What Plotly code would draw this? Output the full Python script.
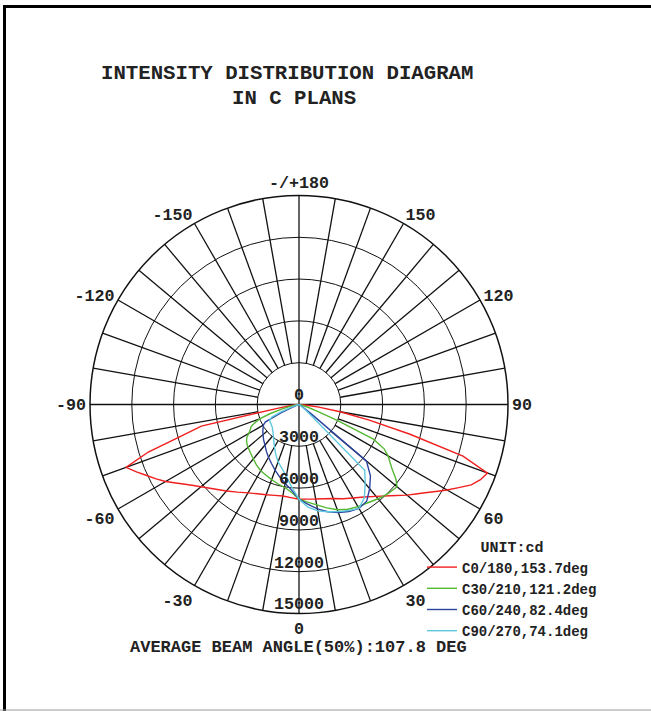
import plotly.graph_objects as go

# ---------------- data ----------------
gamma = [0, 5, 10, 15, 20, 25, 30, 35, 40, 45, 50, 52.5, 55, 57.5, 60, 62.5,
         65, 67.5, 70, 72.5, 75, 77.5, 80, 82.5, 85, 87.5, 90]

# intensity (cd) per half plane
c0 = [6800, 6820, 6890, 7000, 7180, 7460, 7750, 8110, 8610, 9260, 10120, 10550,
      11050, 11630, 12270, 12920, 13640, 14100, 14390, 12340, 8250, 5170, 2990,
      1440, 570, 140, 0]
c180 = [6800, 6710, 6670, 6750, 6890, 7070, 7320, 7680, 8110, 8580, 9190, 9550,
        9980, 10480, 11050, 11560, 12060, 12630, 13210, 11340, 8760, 7180, 1580,
        570, 220, 70, 0]
c30 = [6800, 7030, 7320, 7680, 8040, 8290, 8470, 8610, 8830, 9040, 9190, 8760,
       8180, 7750, 7390, 6890, 5890, 3010, 1290, 720, 360, 220, 140, 70, 0, 0, 0]
c210 = [6800, 6320, 6030, 5890, 5740, 5600, 5490, 5310, 5100, 4920, 4770, 4700,
        4590, 4450, 4160, 3950, 3800, 3440, 3010, 2150, 1290, 720, 360, 220, 140,
        70, 0]
c60 = [6800, 7180, 7610, 7970, 8250, 8470, 8610, 8470, 7890, 7250, 6320, 1080,
       430, 220, 140, 70, 0, 0, 0, 0, 0, 0, 0, 0, 0, 0, 0]
c240 = [6800, 6170, 5740, 5380, 5020, 4670, 4380, 4090, 3800, 3590, 3370, 3270,
        3160, 3050, 2940, 2730, 1440, 570, 220, 70, 0, 0, 0, 0, 0, 0, 0]
c90 = [6800, 7390, 7750, 7970, 8180, 8400, 8610, 8180, 7390, 6670, 720, 290,
       140, 70, 0, 0, 0, 0, 0, 0, 0, 0, 0, 0, 0, 0, 0]
c270 = [6800, 5960, 5240, 4740, 4380, 3950, 3520, 3160, 2870, 2660, 2510, 2480,
        2440, 2430, 2400, 2370, 2150, 1440, 570, 220, 70, 0, 0, 0, 0, 0, 0]

series_names = ["C0/180,153.7deg", "C30/210,121.2deg", "C60/240,82.4deg", "C90/270,74.1deg"]
series_right = [c0, c30, c60, c90]
series_left = [c180, c210, c240, c270]
series_colors = ["#f02020", "#55b833", "#2a43a0", "#60c8dd"]

ring_values = [0, 3000, 6000, 9000, 12000, 15000]
angle_tickvals = [0, 30, 60, 90, 120, 150, 180, 210, 240, 270, 300, 330]
angle_ticktext = ["0", "30", "60", "90", "120", "150", "-/+180", "-150", "-120", "-90", "-60", "-30"]
spoke_step = 10
r_max = 15000

FONT = "Liberation Mono"
W, H = 651, 711


def px(x):
    return x / W


def py(y):
    return 1 - y / H


fig = go.Figure()

# grid spokes (from first ring to outer ring) and the two diameters
sp_t, sp_r = [], []
for a in range(-170, 180, spoke_step):
    if a in (-90, 0, 90):
        continue
    sp_t += [a, a, None]
    sp_r += [ring_values[1], r_max, None]
sp_t += [0, 0, 180, None, 90, 90, 270]
sp_r += [r_max, 0, r_max, None, r_max, 0, r_max]
fig.add_trace(go.Scatterpolar(theta=sp_t, r=sp_r, mode="lines",
                              line=dict(color="#111111", width=1.3),
                              showlegend=False, hoverinfo="skip", connectgaps=False))

# curves
for name, right, left, col in zip(series_names, series_right, series_left, series_colors):
    th = [-g for g in reversed(gamma)] + gamma[1:]
    rr = list(reversed(left)) + right[1:]
    fig.add_trace(go.Scatterpolar(theta=th, r=rr, mode="lines", name=name,
                                  line=dict(color=col, width=1.4)))

# radial labels along the 0 axis
fig.add_trace(go.Scatterpolar(theta=[0] * len(ring_values), r=ring_values,
                              mode="text", text=[str(v) for v in ring_values],
                              textposition="top center",
                              textfont=dict(family=FONT, size=16.7, color="#222", weight="bold"),
                              showlegend=False, hoverinfo="skip", cliponaxis=False))

fig.update_layout(
    width=W, height=H,
    margin=dict(l=0, r=0, t=0, b=0),
    paper_bgcolor="white", plot_bgcolor="white",
    polar=dict(
        domain=dict(x=[px(90), px(508)], y=[py(613.5), py(195.5)]),
        bgcolor="white",
        angularaxis=dict(rotation=-90, direction="counterclockwise",
                         tickmode="array", tickvals=angle_tickvals, ticktext=angle_ticktext,
                         showgrid=False, showline=True, linecolor="#111", linewidth=1.5,
                         ticks="", 
                         tickfont=dict(family=FONT, size=16.7, color="#222", weight="bold")),
        radialaxis=dict(range=[0, r_max], tickmode="array", tickvals=ring_values[1:-1],
                        showgrid=True, gridcolor="#111", gridwidth=1.3,
                        showticklabels=False, showline=False, ticks=""),
    ),
    legend=dict(x=px(422), y=py(532), xanchor="left", yanchor="top",
                bgcolor="rgba(0,0,0,0)",
                font=dict(family=FONT, size=14, color="#222", weight="bold"),
                title=dict(text="UNIT:cd", side="top center",
                           font=dict(family=FONT, size=15, color="#222", weight="bold"))),
    annotations=[
        dict(text="INTENSITY DISTRIBUTION DIAGRAM", x=px(287), y=py(74),
             xref="paper", yref="paper", showarrow=False, xanchor="center", yanchor="middle",
             font=dict(family=FONT, size=20.7, color="#222", weight="bold")),
        dict(text="IN C PLANS", x=px(294), y=py(98),
             xref="paper", yref="paper", showarrow=False, xanchor="center", yanchor="middle",
             font=dict(family=FONT, size=20.7, color="#222", weight="bold")),
        dict(text="AVERAGE BEAM ANGLE(50%):107.8 DEG", x=px(298), y=py(647),
             xref="paper", yref="paper", showarrow=False, xanchor="center", yanchor="middle",
             font=dict(family=FONT, size=17, color="#222", weight="bold")),
    ],
    shapes=[
        dict(type="line", xref="paper", yref="paper", x0=px(3), x1=1, y0=py(6.5), y1=py(6.5),
             line=dict(color="black", width=3)),
        dict(type="line", xref="paper", yref="paper", x0=px(4.5), x1=px(4.5), y0=0, y1=py(5),
             line=dict(color="black", width=3)),
        dict(type="line", xref="paper", yref="paper", x0=0, x1=1, y0=py(710), y1=py(710),
             line=dict(color="#999", width=1)),
    ],
)

fig.write_html("out.html", config={"displayModeBar": False},
               post_script="document.body.style.margin='0px';")
